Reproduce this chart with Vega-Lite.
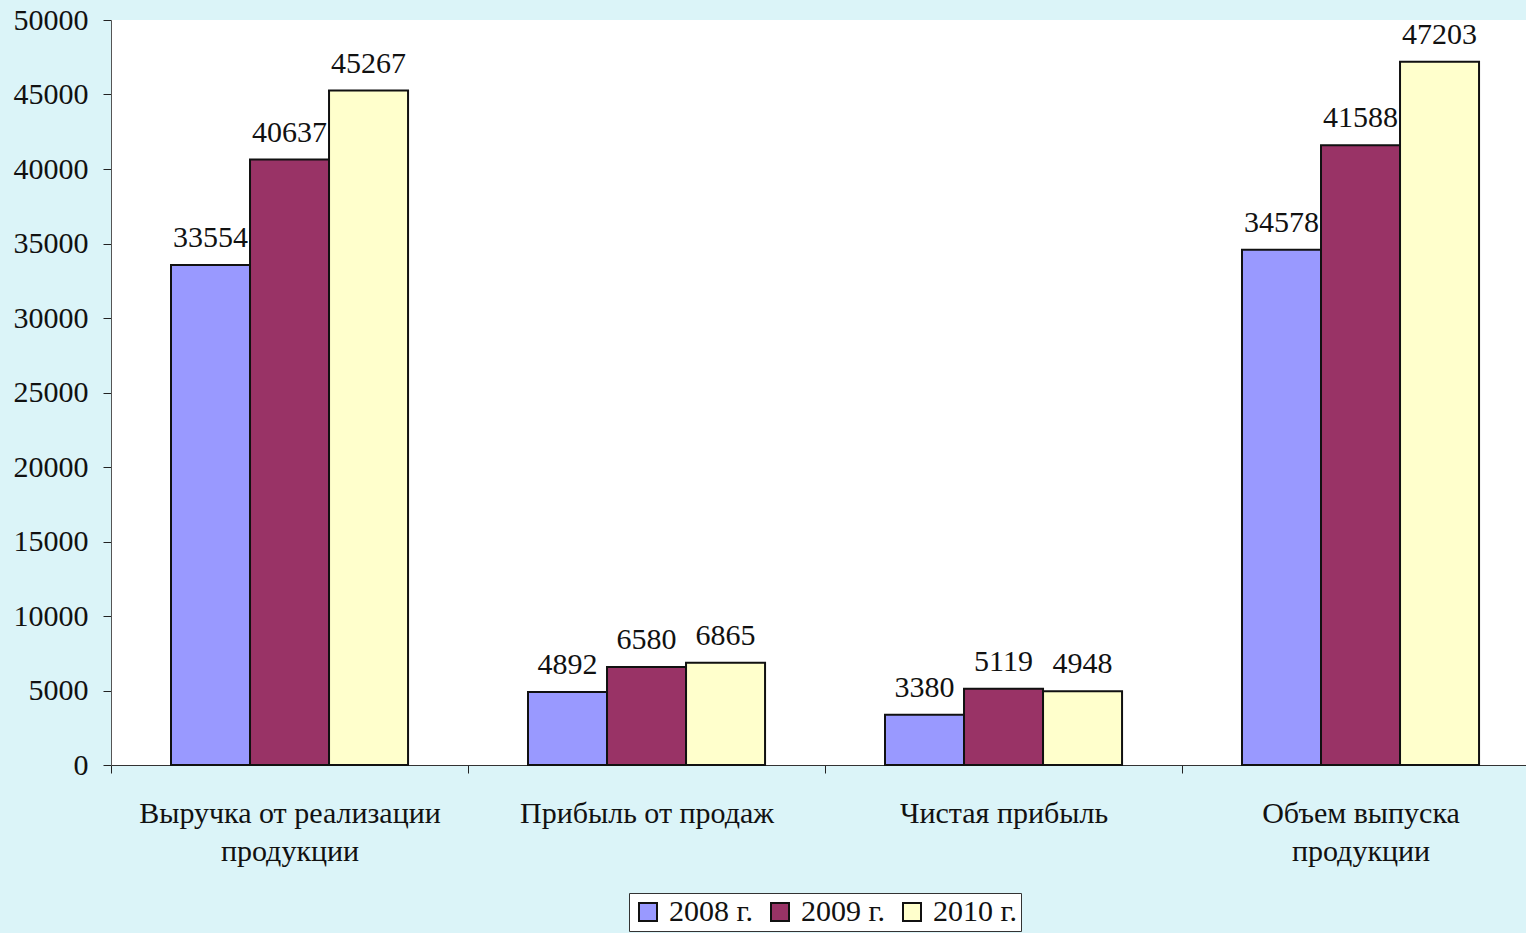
{
  "$schema": "https://vega.github.io/schema/vega-lite/v6.json",
  "width": 1415,
  "height": 745,
  "autosize": {"type": "none"},
  "padding": {"left": 111, "top": 20, "right": 0, "bottom": 168},
  "background": "#DBF4F8",
  "config": {
    "view": {"fill": "white", "stroke": null},
    "font": "Liberation Serif"
  },
  "data": {
    "values": [
      {"cat": "Выручка от реализации продукции", "year": "2008 г.", "value": 33554},
      {"cat": "Выручка от реализации продукции", "year": "2009 г.", "value": 40637},
      {"cat": "Выручка от реализации продукции", "year": "2010 г.", "value": 45267},
      {"cat": "Прибыль от продаж", "year": "2008 г.", "value": 4892},
      {"cat": "Прибыль от продаж", "year": "2009 г.", "value": 6580},
      {"cat": "Прибыль от продаж", "year": "2010 г.", "value": 6865},
      {"cat": "Чистая прибыль", "year": "2008 г.", "value": 3380},
      {"cat": "Чистая прибыль", "year": "2009 г.", "value": 5119},
      {"cat": "Чистая прибыль", "year": "2010 г.", "value": 4948},
      {"cat": "Объем выпуска продукции", "year": "2008 г.", "value": 34578},
      {"cat": "Объем выпуска продукции", "year": "2009 г.", "value": 41588},
      {"cat": "Объем выпуска продукции", "year": "2010 г.", "value": 47203}
    ]
  },
  "encoding": {
    "x": {
      "field": "cat",
      "type": "nominal",
      "sort": ["Выручка от реализации продукции", "Прибыль от продаж", "Чистая прибыль", "Объем выпуска продукции"],
      "scale": {"paddingInner": 0.336, "paddingOuter": 0.1498, "align": 0.561},
      "axis": {
        "title": null,
        "labelAngle": 0,
        "tickOffset": -178.5,
        "labelOffset": 178.5,
        "tickSize": 8,
        "tickColor": "#222",
        "domainColor": "#333",
        "labelPadding": 25,
        "labelFontSize": 30,
        "labelLineHeight": 38,
        "labelColor": "#111",
        "labelLimit": 0,
        "labelFont": "Liberation Serif",
        "labelExpr": "datum.value == 'Выручка от реализации продукции' ? ['Выручка от реализации', 'продукции'] : datum.value == 'Объем выпуска продукции' ? ['Объем выпуска', 'продукции'] : datum.value"
      }
    },
    "xOffset": {
      "field": "year",
      "type": "nominal",
      "scale": {"paddingInner": 0, "paddingOuter": 0}
    },
    "y": {
      "field": "value",
      "type": "quantitative",
      "scale": {"domain": [0, 50000], "nice": false},
      "axis": {
        "title": null,
        "grid": false,
        "values": [0, 5000, 10000, 15000, 20000, 25000, 30000, 35000, 40000, 45000, 50000],
        "format": "d",
        "tickSize": 8,
        "tickColor": "#222",
        "domainColor": "#555",
        "labelPadding": 15,
        "labelFontSize": 30,
        "labelColor": "#111",
        "labelFont": "Liberation Serif"
      }
    }
  },
  "layer": [
    {
      "mark": {"type": "bar", "stroke": "#111", "strokeWidth": 2},
      "encoding": {
        "color": {
          "field": "year",
          "type": "nominal",
          "scale": {"domain": ["2008 г.", "2009 г.", "2010 г."], "range": ["#9999FF", "#993366", "#FFFFCC"]},
          "legend": {
            "title": null,
            "orient": "none",
            "legendX": 518,
            "legendY": 873,
            "direction": "horizontal",
            "symbolType": "square",
            "symbolSize": 324,
            "symbolStrokeColor": "#111",
            "symbolStrokeWidth": 2,
            "symbolOpacity": 1,
            "labelFontSize": 30,
            "labelFont": "Liberation Serif",
            "labelColor": "#111",
            "labelOffset": 6,
            "columnPadding": 12,
            "strokeColor": "#333",
            "fillColor": "white",
            "padding": 4
          }
        }
      }
    },
    {
      "mark": {"type": "text", "baseline": "alphabetic", "dy": -18, "fontSize": 30, "color": "#111", "font": "Liberation Serif"},
      "encoding": {
        "text": {"field": "value", "type": "quantitative", "format": "d"}
      }
    }
  ]
}
